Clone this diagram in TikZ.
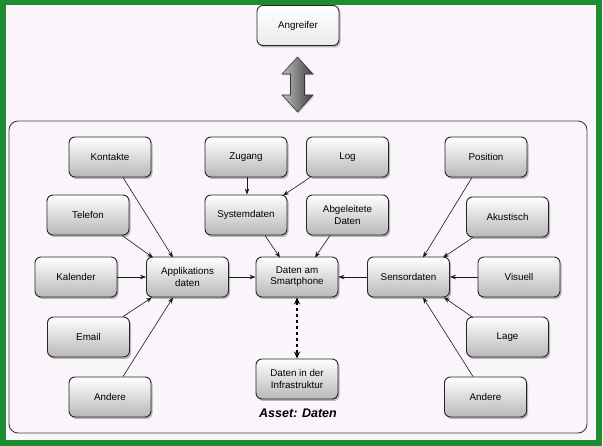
\documentclass[tikz,border=0pt]{standalone}
\usepackage{fontspec}
\setmainfont{Liberation Sans}
\usetikzlibrary{shadows,arrows.meta}
\definecolor{frame}{RGB}{30,140,48}
\definecolor{bgc}{RGB}{249,245,250}
\begin{document}
\begin{tikzpicture}[x=1pt,y=-1pt,
  box/.style={draw=black!85, line width=0.9pt, rounded corners=6pt,
    minimum width=82pt, minimum height=40pt, align=center,
    top color=white, bottom color=black!28,
    font=\fontsize{9.8}{11.2}\selectfont,
    drop shadow={shadow xshift=1.5pt, shadow yshift=-2pt, opacity=0.55}},
  topbox/.style={box, top color=white, bottom color=white!92!black},
  conn/.style={-{Stealth[length=6pt,width=4.5pt]}, line width=0.6pt, black!90}]
\useasboundingbox (0,0) rectangle (603,446);
\fill[bgc] (0,0) rectangle (603,446);
\draw[frame, line width=6pt] (2.5,2.5) rectangle (599,443);
% container
\draw[black!75, line width=0.9pt, rounded corners=9pt] (9,121) rectangle (587,433);
% nodes
\node[topbox] (ang) at (298,25.5) {Angreifer};
\node[box] (kont) at (110,157) {Kontakte};
\node[box] (tel) at (88,215) {Telefon};
\node[box] (kal) at (76,277) {Kalender};
\node[box] (app) at (187.5,277) {Applikations\\daten};
\node[box] (zug) at (246,157) {Zugang};
\node[box] (sys) at (246,215) {Systemdaten};
\node[box] (dsm) at (297,277) {Daten am\\Smartphone};
\node[box] (log) at (347.5,157) {Log};
\node[box] (abg) at (347.5,215) {Abgeleitete\\Daten};
\node[box] (pos) at (486,157) {Position};
\node[box] (aku) at (507.5,217) {Akustisch};
\node[box] (sen) at (408.5,277) {Sensordaten};
\node[box] (vis) at (519,277) {Visuell};
\node[box] (ema) at (88.5,337) {Email};
\node[box] (andl) at (110,397) {Andere};
\node[box] (inf) at (297,379) {Daten in der\\Infrastruktur};
\node[box] (lage) at (507.5,337) {Lage};
\node[box] (andr) at (485.5,397) {Andere};
\node[font=\fontsize{12.5}{14}\selectfont\bfseries\itshape] (asset) at (298,413) {Asset: Daten};
% big double arrow
\coordinate (da) at (297.5,84.5);
\path[draw=black!80, line width=0.6pt, left color=black!25, right color=black!75,
  drop shadow={shadow xshift=1pt, shadow yshift=-1.5pt, opacity=0.35}]
  ([yshift=27.5pt]da) -- ++(15.5,17) -- ++(-8.5,0) -- ++(0,21) -- ++(8.5,0)
  -- ++(-15.5,17) -- ++(-15.5,-17) -- ++(8.5,0) -- ++(0,-21) -- ++(-8.5,0) -- cycle;
% connectors
\draw[conn] ([xshift=13pt]kont.south) -- ([xshift=-14.5pt,yshift=-1pt]app.north);
\draw[conn] ([xshift=34pt]tel.south) -- ([xshift=-34.5pt,yshift=-1pt]app.north);
\draw[conn] (kal.east) -- (app.west);
\draw[conn] ([xshift=34.5pt]ema.north) -- ([xshift=-35.5pt]app.south);
\draw[conn] ([xshift=13pt]andl.north) -- ([xshift=-14.5pt]app.south);
\draw[conn] (app.east) -- (dsm.west);
\draw[conn] ([xshift=1pt]zug.south) -- ([xshift=1pt]sys.north);
\draw[conn] ([xshift=-37.5pt]log.south) -- ([xshift=37pt,yshift=-1pt]sys.north);
\draw[conn] ([xshift=19pt]sys.south) -- ([xshift=-17pt,yshift=-1pt]dsm.north);
\draw[conn] ([xshift=-17.5pt]abg.south) -- ([xshift=18pt,yshift=-1pt]dsm.north);
\draw[conn] (sen.west) -- (dsm.east);
\draw[conn] ([xshift=-14pt]pos.south) -- ([xshift=14.5pt,yshift=-1pt]sen.north);
\draw[conn] ([xshift=-34.5pt]aku.south) -- ([xshift=34.5pt,yshift=-1pt]sen.north);
\draw[conn] (vis.west) -- (sen.east);
\draw[conn] ([xshift=-34.5pt,yshift=-1pt]lage.north) -- ([xshift=35.5pt]sen.south);
\draw[conn] ([xshift=-12.5pt]andr.north) -- ([xshift=14.5pt]sen.south);
\draw[{Stealth[length=7pt,width=6pt]}-{Stealth[length=7pt,width=6pt]}, line width=2pt,
  dash pattern=on 3pt off 3pt] (dsm.south) -- (inf.north);
\end{tikzpicture}
\end{document}
